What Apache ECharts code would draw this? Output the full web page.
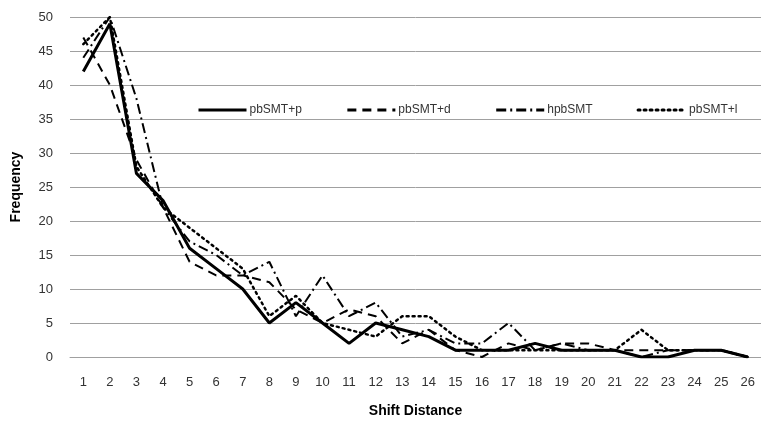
<!DOCTYPE html>
<html>
<head>
<meta charset="utf-8">
<script src="https://cdn.jsdelivr.net/npm/echarts@6/dist/echarts.min.js"></script>
<style>html,body{margin:0;padding:0;background:#fff}#c{width:761px;height:425px}</style>
</head>
<body>
<div id="c"></div>
<script>
var categories = ['1','2','3','4','5','6','7','8','9','10','11','12','13','14','15','16','17','18','19','20','21','22','23','24','25','26'];
var pbSMTp = [42,49,27,23,16,13,10,5,8,5,2,5,4,3,1,1,1,2,1,1,1,0,0,1,1,0];
var pbSMTd = [47,40,29,22,14,12,12,11,7,5,7,6,2,4,1,0,2,1,2,2,1,1,1,1,1,0];
var hpbSMT = [44,50,38,22,17,15,12,14,6,12,6,8,3,4,2,2,5,1,2,1,1,0,1,1,1,0];
var pbSMTl = [46,50,28,22,19,16,13,6,9,5,4,3,6,6,3,1,1,1,1,1,1,4,1,1,1,0];
var seriesNames = ['pbSMT+p','pbSMT+d','hpbSMT','pbSMT+l'];
var yTicks = {min:0, max:50, interval:5};

var chart = echarts.init(document.getElementById('c'), null, {renderer:'canvas'});
var font = '"Liberation Sans", Arial, sans-serif';
function mk(name, data, width, type, cap) {
  return {
    name: name, type: 'line', data: data, symbol: 'none', showSymbol: false,
    lineStyle: {color: '#000', width: width, type: type, cap: cap || 'butt'},
    itemStyle: {color: '#000'},
    animation: false
  };
}
chart.setOption({
  animation: false,
  backgroundColor: '#fff',
  grid: {left: 70, right: -5, top: 17, bottom: 68, containLabel: false},
  legend: {
    top: 99, left: 192,
    itemWidth: 48, itemHeight: 10, itemGap: 44,
    itemStyle: {color: 'transparent', borderColor: 'transparent', borderWidth: 0, opacity: 0},
    lineStyle: {width: 3},
    textStyle: {fontFamily: font, fontSize: 12, color: '#333', padding: [0, 0, 0, -2]},
    data: seriesNames
  },
  xAxis: {
    type: 'category', data: categories, boundaryGap: true,
    axisLine: {lineStyle: {color: '#a0a0a0', width: 1}},
    axisTick: {show: false},
    axisLabel: {fontFamily: font, fontSize: 13, color: '#333', margin: 19, interval: 0},
    name: 'Shift Distance', nameLocation: 'middle', nameGap: 47,
    nameTextStyle: {fontFamily: font, fontSize: 14, fontWeight: 'bold', color: '#000'}
  },
  yAxis: {
    type: 'value', min: yTicks.min, max: yTicks.max, interval: yTicks.interval,
    axisLine: {show: false}, axisTick: {show: false},
    splitLine: {lineStyle: {color: '#a0a0a0', width: 1}},
    axisLabel: {fontFamily: font, fontSize: 13, color: '#333', margin: 17},
    name: 'Frequency', nameLocation: 'middle', nameGap: 47, nameRotate: 90,
    nameTextStyle: {fontFamily: font, fontSize: 14, fontWeight: 'bold', color: '#000'}
  },
  series: [
    mk(seriesNames[0], pbSMTp, 3, 'solid'),
    mk(seriesNames[1], pbSMTd, 2, [9, 6]),
    mk(seriesNames[2], hpbSMT, 2, [10, 4, 2, 4]),
    mk(seriesNames[3], pbSMTl, 2.5, [2, 4], 'round')
  ]
});
</script>
</body>
</html>
